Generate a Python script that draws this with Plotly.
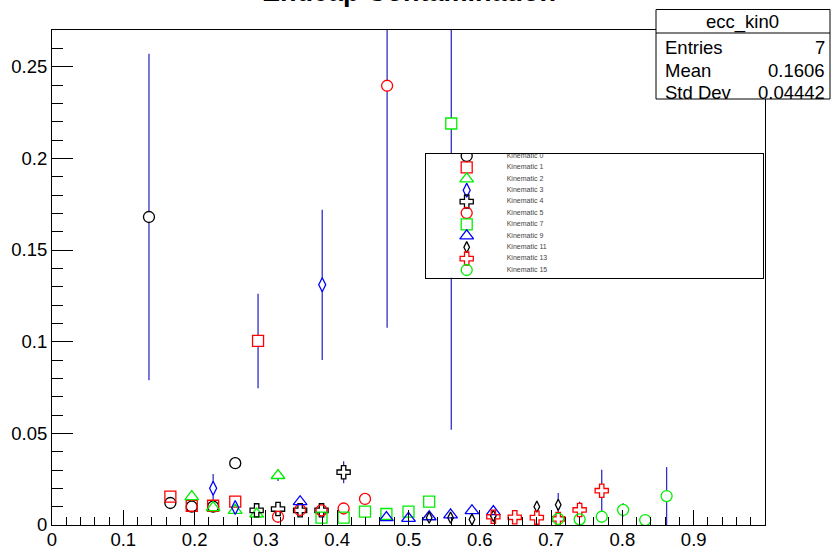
import plotly.graph_objects as go

# ---------------- data ----------------
series_names = ["Kinematic 0", "Kinematic 1", "Kinematic 2", "Kinematic 3", "Kinematic 4",
                "Kinematic 5", "Kinematic 7", "Kinematic 9", "Kinematic 11", "Kinematic 13",
                "Kinematic 15"]

kin0_x = [0.136, 0.166, 0.196, 0.226, 0.257]
kin0_y = [0.168, 0.0120, 0.0100, 0.0100, 0.0337]
kin0_e = [0.089, 0.002, 0.002, 0.002, 0.003]

kin1_x = [0.166, 0.196, 0.226, 0.257, 0.289]
kin1_y = [0.0155, 0.0105, 0.0105, 0.0127, 0.1004]
kin1_e = [0.003, 0.002, 0.002, 0.003, 0.0258]

kin2_x = [0.196, 0.226, 0.257, 0.287, 0.317]
kin2_y = [0.0155, 0.0095, 0.0080, 0.0060, 0.0270]
kin2_e = [0.002, 0.002, 0.002, 0.002, 0.003]

kin3_x = [0.226, 0.257, 0.379]
kin3_y = [0.0200, 0.0095, 0.131]
kin3_e = [0.0078, 0.002, 0.041]

kin4_x = [0.287, 0.317, 0.348, 0.378, 0.409]
kin4_y = [0.0080, 0.0087, 0.0080, 0.0080, 0.0288]
kin4_e = [0.001, 0.001, 0.001, 0.001, 0.0060]

kin5_x = [0.317, 0.348, 0.378, 0.409, 0.439, 0.470]
kin5_y = [0.0045, 0.0082, 0.0080, 0.0090, 0.0142, 0.2396]
kin5_e = [0.001, 0.001, 0.001, 0.001, 0.001, 0.132]

kin7_x = [0.378, 0.409, 0.439, 0.469, 0.500, 0.529, 0.560]
kin7_y = [0.0040, 0.0040, 0.0073, 0.0060, 0.0073, 0.0127, 0.219]
kin7_e = [0.001, 0.001, 0.001, 0.001, 0.001, 0.001, 0.167]

kin9_x = [0.348, 0.469, 0.500, 0.529, 0.559, 0.589, 0.619]
kin9_y = [0.0127, 0.0040, 0.0036, 0.0045, 0.0055, 0.0078, 0.0073]
kin9_e = [0.001, 0.001, 0.001, 0.001, 0.001, 0.001, 0.001]

kin11_x = [0.529, 0.559, 0.589, 0.619, 0.680, 0.710]
kin11_y = [0.0040, 0.0040, 0.0030, 0.0050, 0.0100, 0.0110]
kin11_e = [0.001, 0.001, 0.001, 0.001, 0.001, 0.0065]

kin13_x = [0.619, 0.649, 0.680, 0.710, 0.740, 0.771]
kin13_y = [0.0045, 0.0042, 0.0040, 0.0033, 0.0082, 0.0187]
kin13_e = [0.001, 0.001, 0.001, 0.001, 0.0045, 0.0115]

kin15_x = [0.710, 0.740, 0.771, 0.801, 0.832, 0.862]
kin15_y = [0.0033, 0.0031, 0.0045, 0.0082, 0.0027, 0.0158]
kin15_e = [0.001, 0.001, 0.001, 0.0036, 0.001, 0.0158]

xs = [kin0_x, kin1_x, kin2_x, kin3_x, kin4_x, kin5_x, kin7_x, kin9_x, kin11_x, kin13_x, kin15_x]
ys = [kin0_y, kin1_y, kin2_y, kin3_y, kin4_y, kin5_y, kin7_y, kin9_y, kin11_y, kin13_y, kin15_y]
es = [kin0_e, kin1_e, kin2_e, kin3_e, kin4_e, kin5_e, kin7_e, kin9_e, kin11_e, kin13_e, kin15_e]

x_tick_vals = [0, 0.1, 0.2, 0.3, 0.4, 0.5, 0.6, 0.7, 0.8, 0.9]
x_tick_text = ["0", "0.1", "0.2", "0.3", "0.4", "0.5", "0.6", "0.7", "0.8", "0.9"]
y_tick_vals = [0, 0.05, 0.1, 0.15, 0.2, 0.25]
y_tick_text = ["0", "0.05", "0.1", "0.15", "0.2", "0.25"]

title_text = "Endcap Contamination"
stats_title = "ecc_kin0"
stats_labels = ["Entries", "Mean", "Std Dev"]
stats_values = ["7", "0.1606", "0.04442"]

# ---------------- styles ----------------
colors = ["#000000", "#ff0000", "#00ee00", "#0000ff", "#000000", "#ff0000",
          "#00ee00", "#0000ff", "#000000", "#ff0000", "#00ee00"]
base_symbols = ["circle", "square", "triangle-up", "diamond-tall", "cross", "circle",
                "square", "triangle-up", "diamond-tall", "cross", "circle"]
sizes = [11, 11, 12, 10, 11, 11, 11, 12, 8, 11, 11]
err_color = "#3030c8"
FONT = "Liberation Sans, Arial, Helvetica, sans-serif"

W, H = 831, 548
L, R, T, B = 52, 765, 30, 525  # frame in pixels


def px(x):
    return x / W


def py(y):
    return 1 - y / H


fig = go.Figure()

# pass 1: error bars with white-filled markers (hide error line inside marker)
for i in range(len(series_names)):
    fig.add_trace(go.Scatter(
        x=xs[i], y=ys[i], mode="markers", showlegend=False, hoverinfo="skip",
        error_y=dict(type="data", array=es[i], visible=True, color=err_color,
                     thickness=1.3, width=0),
        marker=dict(symbol=base_symbols[i], size=sizes[i], color="white",
                    line=dict(width=0)),
        xaxis="x", yaxis="y"))

# pass 2: open markers
for i, name in enumerate(series_names):
    fig.add_trace(go.Scatter(
        x=xs[i], y=ys[i], mode="markers", name=name, showlegend=False,
        marker=dict(symbol=base_symbols[i] + "-open", size=sizes[i], color=colors[i],
                    line=dict(width=1.3, color=colors[i])),
        xaxis="x", yaxis="y"))

# legend box as an overlapping subplot (opaque)
leg_rows = [-i for i in range(len(series_names))]
for i, name in enumerate(series_names):
    fig.add_trace(go.Scatter(
        x=[41], y=[leg_rows[i]], mode="markers", showlegend=False, hoverinfo="skip",
        marker=dict(symbol=base_symbols[i] + "-open", size=sizes[i], color=colors[i],
                    line=dict(width=1.3, color=colors[i])),
        xaxis="x2", yaxis="y2"))
fig.add_trace(go.Scatter(
    x=[81] * len(series_names), y=leg_rows, mode="text", text=series_names,
    textposition="middle right", textfont=dict(size=7, color="#444444", family=FONT),
    showlegend=False, hoverinfo="skip", xaxis="x2", yaxis="y2"))

leg_l, leg_r, leg_t, leg_b = 425.7, 763, 154, 277.7
row_h = 11.4
leg_top_r = (156 - leg_t) / row_h
leg_bot_r = -(leg_b - 156) / row_h

axis_common = dict(showgrid=False, zeroline=False, showline=True, linecolor="black",
                   linewidth=1, mirror=True, automargin=False)

fig.update_layout(
    width=W, height=H,
    margin=dict(l=0, r=0, t=0, b=0),
    paper_bgcolor="white", plot_bgcolor="white",
    font=dict(family=FONT, color="black"),
    xaxis=dict(domain=[px(L), px(R)], range=[0, 1], anchor="y",
               tickvals=x_tick_vals, ticktext=x_tick_text,
               ticks="inside", ticklen=15, tickwidth=1, tickcolor="black",
               tickfont=dict(size=18.5, family=FONT, color="black"),
               ticklabelstandoff=-2,
               minor=dict(dtick=0.02, ticks="inside", ticklen=8, tickcolor="black", tickwidth=1),
               **axis_common),
    yaxis=dict(domain=[py(B), py(T)], range=[0, 0.27], anchor="x",
               tickvals=y_tick_vals, ticktext=y_tick_text,
               ticks="inside", ticklen=21, tickwidth=1, tickcolor="black",
               tickfont=dict(size=18.5, family=FONT, color="black"),
               minor=dict(dtick=0.01, ticks="inside", ticklen=11, tickcolor="black", tickwidth=1),
               **axis_common),
    xaxis2=dict(domain=[px(leg_l), px(leg_r)], range=[0, leg_r - leg_l], anchor="y2",
                showticklabels=False, ticks="", **axis_common),
    yaxis2=dict(domain=[py(leg_b), py(leg_t)], range=[leg_bot_r, leg_top_r], anchor="x2",
                showticklabels=False, ticks="", **axis_common),
)

# stats box
sb_l, sb_r, sb_t, sb_b, sb_sep = 656, 830, 9.5, 99, 33
fig.add_shape(type="rect", xref="paper", yref="paper", layer="above",
              x0=px(sb_l), x1=px(sb_r), y0=py(sb_b), y1=py(sb_t),
              fillcolor="white", line=dict(color="black", width=1))
fig.add_shape(type="line", xref="paper", yref="paper", layer="above",
              x0=px(sb_l), x1=px(sb_r), y0=py(sb_sep), y1=py(sb_sep),
              line=dict(color="black", width=1))
fig.add_annotation(text=stats_title, xref="paper", yref="paper", x=px(742), y=py(22),
                   xanchor="center", yanchor="middle", showarrow=False,
                   font=dict(size=18.5, family=FONT, color="black"))
row_y = [47, 71, 92]
for lab, val, yy in zip(stats_labels, stats_values, row_y):
    fig.add_annotation(text=lab, xref="paper", yref="paper", x=px(663), y=py(yy),
                       xanchor="left", yanchor="middle", showarrow=False,
                       font=dict(size=18.5, family=FONT, color="black"))
    fig.add_annotation(text=val, xref="paper", yref="paper", x=px(827), y=py(yy),
                       xanchor="right", yanchor="middle", showarrow=False,
                       font=dict(size=18.5, family=FONT, color="black"))

# title (mostly cut off at the top, as in the reference)
fig.add_annotation(text="<b>" + title_text + "</b>", xref="paper", yref="paper",
                   x=px(409), y=py(-8), xanchor="center", yanchor="middle",
                   showarrow=False, font=dict(size=27, family=FONT, color="black"))

# remove the default page margin so the figure sits at the window's top-left corner
fig.write_html("out.html",
               config={"displayModeBar": False, "staticPlot": True},
               post_script="document.body.style.margin='0';document.body.style.overflow='hidden';")
